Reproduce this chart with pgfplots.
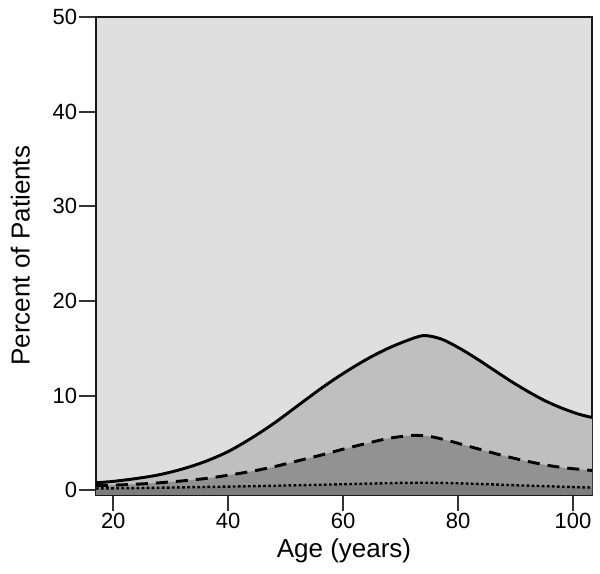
\documentclass[border=0pt]{standalone}
\usepackage{pgfplots}
\pgfplotsset{compat=1.18}
\usepgfplotslibrary{fillbetween}
\usepackage{fontspec}
\setmainfont{Liberation Sans}
\definecolor{bgg}{HTML}{DFDFDF}
\definecolor{midg}{HTML}{BFBFBF}
\definecolor{darkg}{HTML}{929292}
\definecolor{darkerg}{HTML}{7C7C7C}
\begin{document}
\begin{tikzpicture}
\begin{axis}[
  scale only axis,
  width=372pt, height=358pt,
  xmin=17, xmax=103.3, ymin=-0.42, ymax=50,
  xtick={20,40,60,80,100}, ytick={0,10,20,30,40,50},
  axis line style={line width=2pt, draw=black!90},
  tick style={line width=1.5pt, draw=black!80},
  tick align=outside, major tick length=12.5pt,
  xtick pos=bottom, ytick pos=left,
  axis background/.style={fill=bgg},
  ticklabel style={font=\fontsize{16.5}{18}\selectfont, inner sep=1.5pt},
  label style={font=\fontsize{19.5}{22}\selectfont},
  /pgf/number format/assume math mode=true,
  xlabel={Age (years)}, ylabel={Percent of Patients},
  xlabel style={yshift=-2pt},
  ylabel style={yshift=12pt},
  clip=true,
]
\addplot[draw=none, forget plot, name path=bot] coordinates {(17,-1) (103.3,-1)};
\addplot[draw=none, forget plot, smooth, name path=A] coordinates {(17,0.8) (20,0.95) (24,1.25) (28,1.65) (32,2.25) (36,3.05) (40,4.1) (44,5.5) (48,7.1) (52,8.9) (56,10.7) (59,11.95) (62,13.1) (65,14.15) (68,15.05) (71,15.8) (74,16.35) (77,16.0) (80,15.1) (83,14.0) (86,12.8) (89,11.6) (92,10.5) (95,9.5) (98,8.7) (101,8.05) (103.3,7.7)};
\addplot[draw=none, forget plot, smooth, name path=B] coordinates {(17,0.5) (20,0.55) (24,0.65) (28,0.8) (32,1.0) (36,1.25) (40,1.6) (44,2.0) (48,2.5) (52,3.1) (56,3.7) (60,4.35) (64,4.95) (68,5.5) (72,5.8) (75,5.7) (78,5.3) (81,4.8) (84,4.3) (87,3.8) (90,3.35) (93,2.95) (96,2.6) (99,2.35) (103.3,2.1)};
\addplot[draw=none, forget plot, smooth, name path=C] coordinates {(17,0.2) (25,0.25) (35,0.35) (45,0.45) (55,0.58) (65,0.72) (72,0.8) (78,0.78) (85,0.65) (92,0.5) (100,0.35) (103.3,0.3)};
\addplot[midg] fill between[of=A and bot];
\addplot[darkg] fill between[of=B and bot];
\addplot[darkerg] fill between[of=C and bot];
\addplot[black, line width=2.2pt, smooth] coordinates {(17,0.8) (20,0.95) (24,1.25) (28,1.65) (32,2.25) (36,3.05) (40,4.1) (44,5.5) (48,7.1) (52,8.9) (56,10.7) (59,11.95) (62,13.1) (65,14.15) (68,15.05) (71,15.8) (74,16.35) (77,16.0) (80,15.1) (83,14.0) (86,12.8) (89,11.6) (92,10.5) (95,9.5) (98,8.7) (101,8.05) (103.3,7.7)};
\addplot[black, line width=2.2pt, smooth, dash pattern=on 9pt off 6pt] coordinates {(17,0.5) (20,0.55) (24,0.65) (28,0.8) (32,1.0) (36,1.25) (40,1.6) (44,2.0) (48,2.5) (52,3.1) (56,3.7) (60,4.35) (64,4.95) (68,5.5) (72,5.8) (75,5.7) (78,5.3) (81,4.8) (84,4.3) (87,3.8) (90,3.35) (93,2.95) (96,2.6) (99,2.35) (103.3,2.1)};
\addplot[black, line width=1.8pt, smooth, dash pattern=on 2pt off 1.8pt] coordinates {(17,0.2) (25,0.25) (35,0.35) (45,0.45) (55,0.58) (65,0.72) (72,0.8) (78,0.78) (85,0.65) (92,0.5) (100,0.35) (103.3,0.3)};
\end{axis}
\path (current axis.south west) ++(-72pt,-59.25pt) coordinate (bl);
\path (current axis.north east) ++(6pt,12.75pt) coordinate (tr);
\path[use as bounding box] (bl) rectangle (tr);
\end{tikzpicture}
\end{document}
